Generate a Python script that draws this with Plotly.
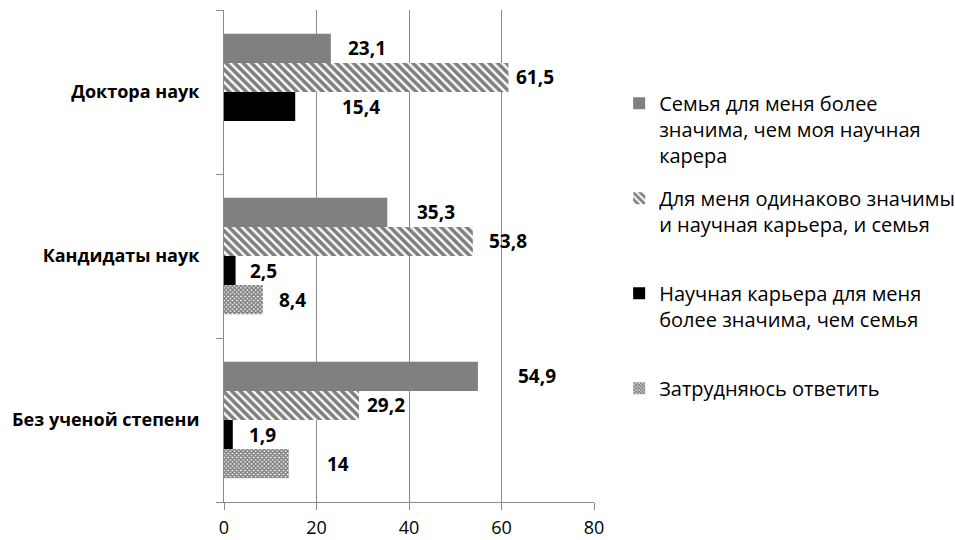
import plotly.graph_objects as go

categories = ["Доктора наук", "Кандидаты наук", "Без ученой степени"]
series_names = [
    "Семья для меня более<br>значима, чем моя научная<br>карера",
    "Для меня одинаково значимы<br>и научная карьера, и семья<br> ",
    "Научная карьера для меня<br>более значима, чем семья<br> ",
    "Затрудняюсь ответить",
]
family_more = [23.1, 35.3, 54.9]
equal = [61.5, 53.8, 29.2]
career_more = [15.4, 2.5, 1.9]
hard_to_say = [None, 8.4, 14]
x_ticks = [0, 20, 40, 60, 80]

series_values = [family_more, equal, career_more, hard_to_say]

# label nudges (pixels right of bar end), per series per category
label_nudges = [
    [15, 28, 38],
    [6, 14, 6],
    [45, 12, 14],
    [0, 14, 36],
]

styles = [
    dict(color="#808080"),
    dict(color="white", pattern=dict(shape="\\", fgcolor="black", bgcolor="white", size=6, solidity=0.6)),
    dict(color="black"),
    dict(color="white", pattern=dict(shape="x", fgcolor="black", bgcolor="white", size=3, solidity=0.75)),
]

BARGAP = 0.29
N = len(series_values)

def fmt(v):
    return ("%g" % v).replace(".", ",")

fig = go.Figure()
for i, (name, vals, st) in enumerate(zip(series_names, series_values, styles)):
    fig.add_trace(go.Bar(
        y=list(range(len(categories))), x=vals, orientation="h", name=name,
        marker=dict(line=dict(width=0), **st), legendgroup=str(i),
    ))

slot = (1 - BARGAP) / N
annotations = []
for i, vals in enumerate(series_values):
    for j, v in enumerate(vals):
        if v is None:
            continue
        yc = j - (1 - BARGAP) / 2 + (i + 0.5) * slot
        annotations.append(dict(
            x=v, y=yc, xref="x", yref="y", text=fmt(v), showarrow=False,
            xanchor="left", yanchor="middle", xshift=label_nudges[i][j],
            font=dict(family="Open Sans", size=19, color="black", weight="bold"),
        ))

fig.update_layout(
    width=955, height=540,
    barmode="group", bargap=BARGAP, bargroupgap=0,
    plot_bgcolor="white", paper_bgcolor="white",
    margin=dict(l=224, r=361, t=10, b=38, autoexpand=False),
    font=dict(family="Open Sans", size=17, color="black"),
    annotations=annotations,
    legend=dict(x=1.068, y=0.85, xanchor="left", yanchor="top",
                font=dict(size=20), valign="top", tracegroupgap=14,
                traceorder="grouped"),
    xaxis=dict(range=[0, 80], tickvals=x_ticks, showgrid=True, gridcolor="#8a8a8a", gridwidth=1,
               showline=True, linecolor="#8a8a8a", linewidth=1, ticks="outside", ticklen=7,
               tickcolor="#8a8a8a", tickfont=dict(size=18), zeroline=False, automargin=False,
               ticklabelstandoff=2),
    yaxis=dict(range=[len(categories) - 0.5, -0.5], tickvals=list(range(len(categories))),
               ticktext=categories, showline=True, linecolor="#8a8a8a", linewidth=1,
               ticks="", showgrid=False, zeroline=False,
               tickfont=dict(size=18, weight="bold"), automargin=False, ticklabelstandoff=20,
               minor=dict(tickvals=[-0.5, 0.5, 1.5, 2.5], ticks="outside", ticklen=7,
                          tickcolor="#8a8a8a", showgrid=False)),
)
fig.write_html("out.html", config={"displayModeBar": False},
               post_script="document.body.style.margin='0';document.body.style.overflow='hidden';")
